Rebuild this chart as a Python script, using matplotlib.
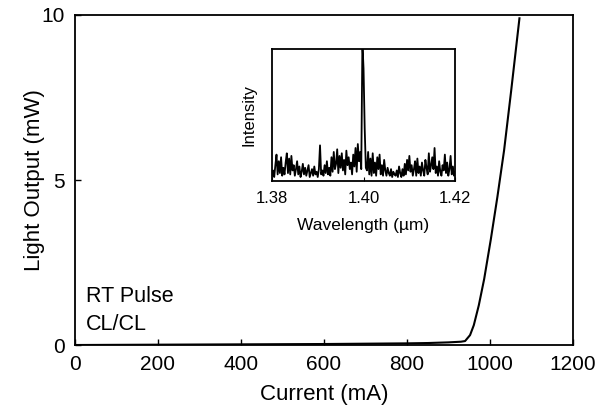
import matplotlib
matplotlib.use("Agg")
import matplotlib.pyplot as plt
import numpy as np

plt.rcParams['font.family'] = ['Liberation Sans', 'DejaVu Sans']

# Main L-I curve
current_mA = [0, 100, 200, 300, 400, 500, 600, 700, 800, 850, 900, 930, 940, 952, 961, 973, 986, 1002, 1018, 1034, 1051, 1071]
power_mW = [0.0, 0.005, 0.01, 0.015, 0.02, 0.025, 0.03, 0.04, 0.05, 0.06, 0.08, 0.1, 0.12, 0.3, 0.6, 1.2, 2.0, 3.2, 4.5, 5.9, 7.7, 9.9]

x_ticks = [0, 200, 400, 600, 800, 1000, 1200]
y_ticks = [0, 5, 10]

# Inset spectrum (intensity in % of inset height), 1.38..1.42 um, step 0.00025
spec_start = 1.38
spec_step = 0.00025
spec_int = [
    4, 8, 3, 12,   20, 5, 15, 6,   18, 4, 10, 5,   14, 21, 6, 17,   5, 19, 8, 12,
    4, 9, 15, 5,   11, 3, 7, 13,   5, 10, 4, 8,   12, 3, 6, 9,   4, 11, 5, 7,
    3, 9, 27, 5,   8, 4, 12, 6,   15, 5, 10, 4,   18, 7, 22, 9,   13, 24, 6, 19,
    10, 21, 8, 16,   5, 23, 12, 18,   9, 14, 5, 20,   11, 25, 7, 28,   15, 22, 9, 105,
    85, 40, 10, 8,   22, 5, 17, 4,   21, 6, 14, 4,   18, 9, 20, 5,   12, 4, 16, 8,
    4, 10, 6, 4,   9, 3, 7, 5,   4, 8, 3, 11,   6, 3, 9, 4,   13, 5, 16, 8,
    19, 7, 12, 4,   9, 15, 4, 17,   6, 11, 4, 14,   8, 4, 16, 10,   5, 21, 7, 12,
    18, 9, 25, 6,   11, 4, 15, 7,   4, 12, 8, 20,   6, 14, 4, 9,   19, 5, 11, 4,
    7,
]
inset_ticks = [1.38, 1.40, 1.42]

fig = plt.figure(figsize=(5.95, 4.12), dpi=100)
ax = fig.add_axes([0.126, 0.1626, 0.837, 0.801])
ax.plot(current_mA, power_mW, color='black', lw=1.5)
ax.set_xlim(0, 1200)
ax.set_ylim(0, 10)
ax.set_xticks(x_ticks)
ax.set_yticks(y_ticks)
ax.tick_params(direction='in', length=4, width=1, labelsize=15, pad=7.5)
for s in ax.spines.values():
    s.set_linewidth(1.3)
ax.set_xlabel('Current (mA)', fontsize=16, labelpad=7)
ax.set_ylabel('Light Output (mW)', fontsize=16, labelpad=-3)
ax.text(0.022, 0.148, 'RT Pulse', transform=ax.transAxes, fontsize=15.5, va='center', ha='left')
ax.text(0.022, 0.062, 'CL/CL', transform=ax.transAxes, fontsize=15.5, va='center', ha='left')

wl = spec_start + spec_step * np.arange(len(spec_int))
ins = fig.add_axes([0.457, 0.5607, 0.308, 0.3203])
ins.plot(wl, np.array(spec_int) / 100.0, color='black', lw=1.3)
ins.set_xlim(1.38, 1.42)
ins.set_ylim(0, 1)
ins.set_xticks(inset_ticks)
ins.set_xticklabels(['%.2f' % t for t in inset_ticks])
ins.set_yticks([])
ins.tick_params(direction='in', length=3, labelsize=12, pad=7.5)
for s in ins.spines.values():
    s.set_linewidth(1.3)
ins.set_xlabel('Wavelength (\u00b5m)', fontsize=12.5, labelpad=8)
ins.set_ylabel('Intensity', fontsize=12, labelpad=11)

fig.savefig('out.png', dpi=100)
